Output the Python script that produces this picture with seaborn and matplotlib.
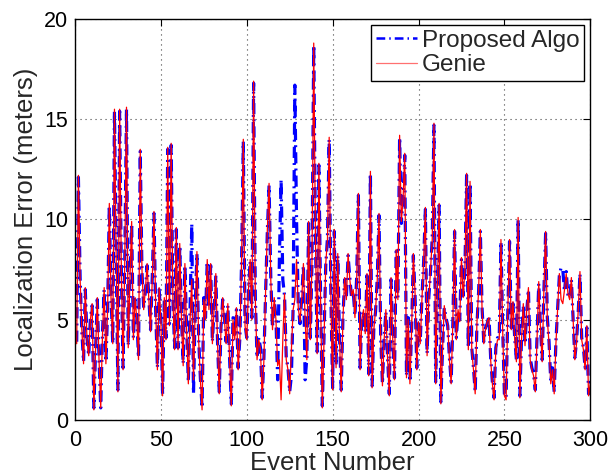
import matplotlib
matplotlib.use('Agg')
import matplotlib.pyplot as plt
import seaborn as sns
import numpy as np
import pandas as pd

# event numbers 1..300
events = np.arange(1, 301)

genie = [
    3.8, 12.2, 7.0, 4.5, 2.8, 6.6, 4.0, 3.2, 5.0, 5.8,
    0.5, 3.5, 6.1, 3.0, 0.6, 4.2, 6.6, 2.8, 5.5, 10.8,
    6.0, 3.8, 15.5, 8.0, 1.4, 15.5, 7.5, 2.5, 8.0, 15.6,
    3.6, 7.0, 9.9, 4.0, 6.1, 5.0, 3.0, 13.5, 7.5, 5.5,
    6.5, 7.8, 6.0, 4.4, 7.0, 10.4, 5.5, 2.5, 6.6, 5.0,
    1.2, 6.1, 4.0, 13.6, 4.7, 13.8, 6.0, 3.5, 9.6, 3.5,
    8.8, 5.0, 2.7, 7.8, 4.5, 1.8, 5.0, 7.0, 2.0, 5.5,
    8.4, 4.0, 2.0, 0.5, 6.0, 5.0, 8.0, 5.5, 7.8, 3.8,
    5.5, 7.3, 3.8, 1.3, 4.5, 6.1, 5.0, 3.8, 5.8, 3.0,
    0.7, 5.0, 4.0, 5.6, 2.5, 4.0, 8.0, 14.0, 4.7, 4.0,
    6.5, 8.0, 5.0, 16.9, 6.0, 3.0, 4.0, 3.5, 1.0, 3.0,
    6.5, 9.5, 11.8, 7.0, 4.5, 6.1, 5.0, 2.7, 3.0, 1.0,
    4.0, 6.3, 3.0, 2.5, 1.3, 3.5, 5.5, 6.0, 8.0, 5.6,
    4.9, 6.0, 7.8, 5.0, 3.0, 9.9, 4.0, 8.0, 18.8, 9.0,
    3.3, 12.8, 6.0, 0.6, 4.0, 7.8, 9.0, 14.1, 6.0, 1.5,
    9.5, 2.6, 8.3, 4.0, 1.4, 5.0, 7.1, 6.0, 8.3, 7.0,
    6.2, 6.5, 5.1, 7.0, 11.3, 2.5, 5.0, 5.5, 4.3, 7.3,
    2.2, 12.4, 1.6, 4.5, 5.5, 7.0, 10.3, 4.0, 1.7, 4.0,
    5.5, 3.0, 1.2, 7.1, 4.0, 2.0, 8.5, 6.0, 14.2, 9.9,
    11.0, 13.3, 2.1, 5.0, 1.8, 4.5, 8.3, 6.3, 2.5, 4.9,
    3.8, 6.0, 8.0, 10.6, 3.2, 6.0, 7.5, 9.0, 14.8, 1.8,
    6.5, 10.8, 0.8, 3.5, 5.7, 5.0, 4.8, 3.0, 1.8, 4.9,
    9.5, 4.0, 5.5, 4.9, 8.1, 6.1, 7.5, 12.3, 3.5, 11.9,
    3.5, 2.5, 1.3, 4.8, 6.5, 9.5, 5.5, 3.8, 4.5, 4.9,
    5.1, 3.0, 1.8, 1.0, 3.5, 4.0, 4.0, 9.0, 4.5, 1.2,
    1.0, 5.5, 9.0, 4.5, 5.9, 4.0, 2.9, 10.1, 1.1, 4.0,
    5.8, 3.7, 5.5, 6.6, 3.0, 2.5, 2.2, 1.4, 4.0, 6.9,
    4.5, 2.9, 6.5, 9.4, 5.0, 3.8, 1.8, 2.5, 1.3, 3.8,
    5.5, 7.3, 6.0, 5.8, 6.5, 7.3, 6.3, 6.0, 7.1, 5.0,
    3.0, 3.8, 5.5, 7.4, 4.0, 3.5, 2.5, 4.7, 1.2, 1.8,
]

proposed = [
    3.9, 12.1, 7.1, 4.4, 2.9, 6.5, 4.1, 3.2, 5.1, 5.7,
    0.6, 3.5, 6.0, 3.1, 0.6, 4.3, 6.5, 2.9, 5.4, 10.7,
    6.1, 3.8, 15.4, 8.1, 1.5, 15.4, 7.4, 2.6, 8.1, 15.5,
    3.7, 7.1, 9.8, 4.1, 6.0, 5.1, 3.1, 13.4, 7.4, 5.6,
    6.4, 7.7, 6.1, 4.5, 7.1, 10.3, 5.4, 2.6, 6.5, 5.1,
    1.3, 6.0, 4.1, 13.5, 4.8, 13.7, 6.1, 3.6, 9.5, 3.6,
    8.7, 5.1, 2.8, 7.7, 4.6, 1.9, 5.5, 9.8, 1.3, 5.6,
    8.3, 4.1, 2.1, 0.6, 6.1, 5.1, 7.9, 5.6, 7.7, 3.9,
    5.6, 7.2, 3.9, 1.4, 4.6, 6.0, 5.1, 3.9, 5.7, 3.1,
    0.8, 5.1, 4.1, 5.5, 2.6, 4.1, 7.9, 13.9, 4.8, 4.1,
    6.4, 7.9, 5.1, 16.8, 6.1, 3.1, 4.1, 3.6, 1.1, 3.1,
    6.4, 9.4, 11.7, 7.1, 4.6, 6.0, 5.1, 2.0, 8.0, 12.0,
    7.0, 6.2, 3.1, 2.6, 1.4, 2.2, 5.6, 16.7, 10.0, 5.7,
    4.8, 6.1, 7.7, 2.0, 3.1, 9.8, 4.1, 7.9, 18.7, 9.1,
    3.4, 12.7, 6.1, 0.7, 4.1, 7.7, 9.1, 14.0, 6.1, 1.6,
    9.4, 2.7, 8.2, 4.1, 1.5, 5.1, 7.0, 6.1, 8.2, 7.1,
    6.1, 6.4, 5.2, 7.1, 11.2, 2.6, 5.1, 5.4, 4.4, 7.2,
    2.3, 12.3, 1.7, 4.6, 5.4, 7.1, 10.2, 4.1, 1.8, 4.1,
    5.4, 3.1, 1.3, 7.0, 4.1, 2.1, 8.4, 6.1, 14.1, 9.8,
    11.1, 13.2, 2.2, 5.1, 1.9, 4.6, 8.2, 6.2, 2.6, 4.8,
    3.9, 6.1, 7.9, 10.5, 3.3, 6.1, 7.4, 9.1, 14.7, 1.9,
    6.4, 10.7, 0.9, 3.6, 5.6, 5.1, 4.7, 3.1, 1.9, 4.8,
    9.4, 4.1, 5.4, 5.0, 8.0, 6.2, 7.4, 12.2, 3.6, 11.8,
    3.6, 2.6, 1.4, 4.7, 6.4, 9.4, 5.6, 3.9, 4.6, 4.8,
    5.2, 3.1, 1.9, 1.1, 3.6, 4.1, 4.1, 8.9, 4.6, 1.3,
    1.1, 5.4, 8.9, 4.6, 5.8, 4.1, 3.0, 10.0, 1.2, 4.1,
    5.7, 3.8, 5.4, 6.5, 3.1, 2.6, 2.3, 1.5, 4.1, 6.8,
    4.6, 3.0, 6.4, 9.3, 5.1, 3.9, 1.9, 2.6, 1.4, 3.9,
    5.6, 7.2, 7.6, 7.5, 6.4, 7.4, 6.2, 6.1, 7.0, 5.1,
    3.1, 3.9, 5.4, 7.3, 4.1, 3.6, 2.6, 4.6, 1.3, 1.9,
]

df = pd.DataFrame({'event': events, 'proposed': proposed, 'genie': genie})

sns.set_theme(style="whitegrid")
plt.rcParams['font.family'] = ['Liberation Sans', 'DejaVu Sans']

fig = plt.figure(figsize=(6.12, 4.75), dpi=100)
ax = fig.add_axes([0.1225, 0.116, 0.842, 0.844])

sns.lineplot(data=df, x='event', y='proposed', ax=ax, color='#0000FF',
             linestyle=(0, (3.5, 1.6, 0.6, 1.6)), linewidth=2.3,
             label='Proposed Algo', estimator=None)
sns.lineplot(data=df, x='event', y='genie', ax=ax, color='#FF0000',
             linewidth=0.9, label='Genie', estimator=None)

ax.set_xlim(0, 300)
ax.set_ylim(0, 20)
ax.set_xticks(np.arange(0, 301, 50))
ax.set_yticks(np.arange(0, 21, 5))
ax.grid(True, linestyle=(0, (1, 3.5)), color='#444444', linewidth=0.8)
ax.set_facecolor('white')
for s in ax.spines.values():
    s.set_color('black')
    s.set_linewidth(1.0)
ax.tick_params(axis='both', direction='in', top=True, right=True, length=5,
               width=0.8, labelsize=15.5, colors='black')
ax.tick_params(axis='x', pad=7)
ax.tick_params(axis='y', pad=5)

ax.set_xlabel('Event Number', fontsize=18.5, labelpad=0)
ax.set_ylabel('Localization Error (meters)', fontsize=18.5, labelpad=4)

leg = ax.legend(loc='upper right', fontsize=17.5, fancybox=False, framealpha=1,
                edgecolor='black', handlelength=1.7, borderaxespad=0.25,
                borderpad=0.2, labelspacing=0.1, handletextpad=0.2)
leg.get_frame().set_linewidth(1.0)
leg.get_lines()[1].set_color('#FF7070')
leg.get_lines()[0].set_linewidth(1.8)

fig.savefig('out.png', dpi=100)
